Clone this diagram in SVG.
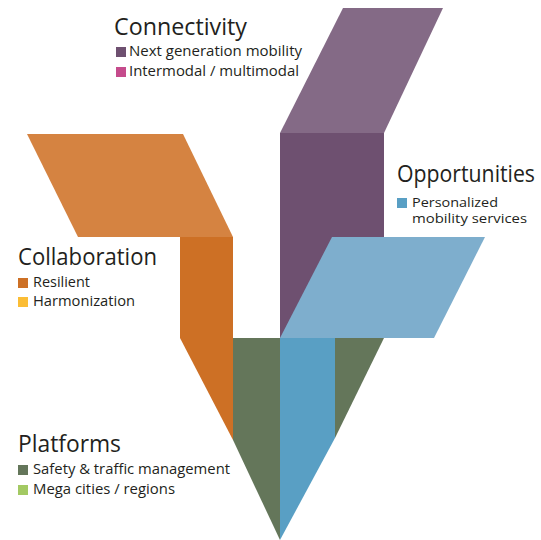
<svg xmlns="http://www.w3.org/2000/svg" width="541" height="540" viewBox="0 0 541 540">
  <style>
    .title { font-family: "Open Sans", "Noto Sans", sans-serif; font-size: 23px; fill: #231f20; }
    .item { font-family: "Open Sans", "Noto Sans", sans-serif; font-size: 14.5px; fill: #231f20; }
    .item.tight { font-size: 13.5px; }
  </style>
  <rect width="541" height="540" fill="#ffffff"/>

  <!-- Collaboration band (orange) -->
  <g id="collaboration-band">
    <polygon points="27,134 183,134 233,237 78,237" fill="#d58341"/>
    <polygon points="180,237 233,237 233,440 180,338" fill="#cd7025"/>
  </g>

  <!-- Connectivity band (purple) -->
  <g id="connectivity-band">
    <polygon points="343,8 443,8 384,133 280,133" fill="#846a86"/>
    <rect x="280" y="133" width="104" height="205" fill="#6e5070"/>
  </g>

  <!-- Platforms (green V) -->
  <g id="platforms-band">
    <polygon points="233,338 280,338 280,540 233,440" fill="#64765a"/>
    <polygon points="335,338 384,338 335,438" fill="#64765a"/>
  </g>

  <!-- Opportunities band (blue) -->
  <g id="opportunities-band">
    <polygon points="332,237 485,237 434,338 280,338" fill="#7eaecd"/>
    <polygon points="280,338 335,338 335,438 280,540" fill="#599fc4"/>
  </g>

  <!-- Legends -->
  <g id="connectivity-legend">
    <text class="title" x="114" y="35" textLength="133" lengthAdjust="spacingAndGlyphs">Connectivity</text>
    <rect x="116" y="47" width="10" height="10" fill="#6e5070"/>
    <text class="item" x="129" y="56" textLength="173" lengthAdjust="spacingAndGlyphs">Next generation mobility</text>
    <rect x="116" y="67" width="10" height="10" fill="#c54b8c"/>
    <text class="item" x="129" y="76" textLength="170" lengthAdjust="spacingAndGlyphs">Intermodal / multimodal</text>
  </g>

  <g id="opportunities-legend">
    <text class="title" x="397" y="182" textLength="138" lengthAdjust="spacingAndGlyphs">Opportunities</text>
    <rect x="397" y="198" width="10" height="10" fill="#599fc4"/>
    <text class="item tight" x="412" y="207" textLength="86" lengthAdjust="spacingAndGlyphs">Personalized</text>
    <text class="item tight" x="412" y="222.5" textLength="115" lengthAdjust="spacingAndGlyphs">mobility services</text>
  </g>

  <g id="collaboration-legend">
    <text class="title" x="18" y="265" textLength="139" lengthAdjust="spacingAndGlyphs">Collaboration</text>
    <rect x="18" y="278" width="10" height="10" fill="#cd7025"/>
    <text class="item" x="33" y="287" textLength="57" lengthAdjust="spacingAndGlyphs">Resilient</text>
    <rect x="18" y="297" width="10" height="10" fill="#fbbd35"/>
    <text class="item" x="33" y="306" textLength="102" lengthAdjust="spacingAndGlyphs">Harmonization</text>
  </g>

  <g id="platforms-legend">
    <text class="title" x="18" y="452" textLength="103" lengthAdjust="spacingAndGlyphs">Platforms</text>
    <rect x="18" y="465" width="10" height="10" fill="#64765a"/>
    <text class="item" x="33" y="474" textLength="197" lengthAdjust="spacingAndGlyphs">Safety &amp; traffic management</text>
    <rect x="18" y="485" width="10" height="10" fill="#a3c963"/>
    <text class="item" x="33" y="494" textLength="142" lengthAdjust="spacingAndGlyphs">Mega cities / regions</text>
  </g>
</svg>
